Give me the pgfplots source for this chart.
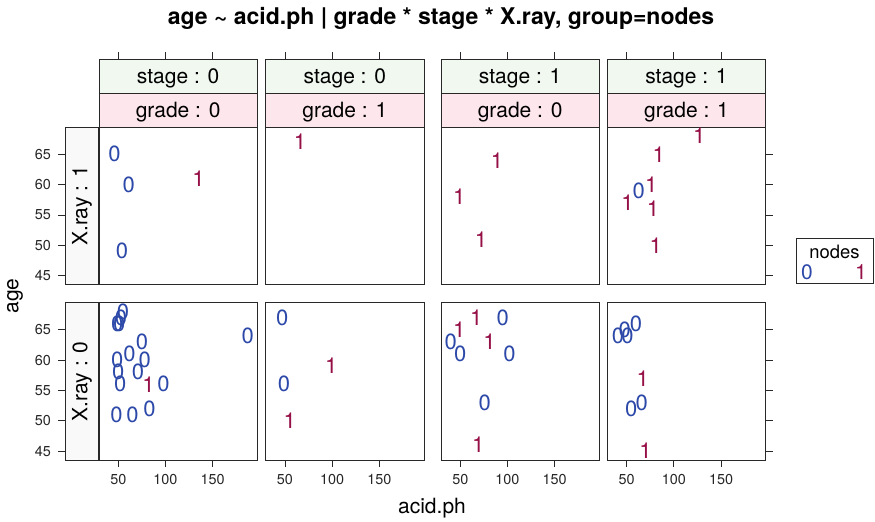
\documentclass[border=0pt]{standalone}
\usepackage{fontspec}
\setmainfont{TeX Gyre Heros}
\usepackage{pgfplots}
\pgfplotsset{compat=1.18}

\newlength\px
\setlength\px{0.5pt}

\definecolor{zerocol}{RGB}{44,72,168}
\definecolor{onecol}{RGB}{150,16,72}
\definecolor{framecol}{RGB}{40,40,40}
\definecolor{stagebg}{RGB}{240,248,240}
\definecolor{gradebg}{RGB}{253,230,236}
\definecolor{xraybg}{RGB}{249,249,249}

\tikzset{striptext/.style={font=\fontsize{10.5}{11}\selectfont}}

\pgfplotsset{
  base/.style={
    scale only axis, anchor=north west,
    xmin=29.6, xmax=197.2, ymin=43.5, ymax=69.45,
    axis line style={draw=framecol, line width=0.5pt},
    major tick style={draw=framecol, line width=0.45pt},
    major tick length=7\px, tick align=outside,
    xtick=\empty, ytick=\empty,
    tick label style={font=\fontsize{7.2}{7.2}\selectfont, text=black!85},
    /pgf/number format/assume math mode=true,
    clip=false,
  },
  panel/.style={base, width=158.3\px, height=157.4\px},
  bot/.style={xtick={50,100,150}, xtick pos=left},
  rightticks/.style={ytick={45,50,...,65}, ytick pos=right, yticklabels={,,,,}},
  strip/.style={base, width=158.3\px, height=34\px, ymin=0, ymax=1},
  zero/.style={only marks, mark=text, text mark={0}, text mark as node=true,
    color=zerocol, text mark style={font=\fontsize{11}{11}\selectfont, text=zerocol}},
  one/.style={only marks, mark=text, text mark={1}, text mark as node=true,
    color=onecol, text mark style={font=\fontsize{11}{11}\selectfont, text=onecol}},
}

\newcommand\stripcol[3]{%
  \begin{axis}[strip, at={(#1\px,-59.3\px)}, xtick={50,100,150}, xtick pos=right,
      xticklabels={,,}, axis background/.style={fill=stagebg}]
    \node[striptext, anchor=base] at (rel axis cs:0.5,0.29) {stage : #2};
  \end{axis}
  \begin{axis}[strip, at={(#1\px,-93.3\px)}, axis background/.style={fill=gradebg}]
    \node[striptext, anchor=base] at (rel axis cs:0.5,0.29) {grade : #3};
  \end{axis}%
}

\begin{document}
\begin{tikzpicture}
\path[use as bounding box] (0,0) rectangle (875\px,-521\px);

\node[font=\bfseries\fontsize{11.5}{12}\selectfont] at (441\px,-18\px)
  {age \textasciitilde{} acid.ph | grade * stage * X.ray, group=nodes};

% strips on top
\stripcol{99}{0}{0}
\stripcol{265.7}{0}{1}
\stripcol{441}{1}{0}
\stripcol{607.3}{1}{1}

% X.ray strips on the left
\begin{axis}[base, width=34\px, height=157.4\px, xmin=0, xmax=1,
    at={(65\px,-127.3\px)}, ytick={45,50,...,65}, ytick pos=left,
    axis background/.style={fill=xraybg}]
  \node[striptext, rotate=90] at (rel axis cs:0.5,0.5) {X.ray : 1};
\end{axis}
\begin{axis}[base, width=34\px, height=157.4\px, xmin=0, xmax=1,
    at={(65\px,-302.7\px)}, ytick={45,50,...,65}, ytick pos=left,
    axis background/.style={fill=xraybg}]
  \node[striptext, rotate=90] at (rel axis cs:0.5,0.5) {X.ray : 0};
\end{axis}

% ---- top row: X.ray = 1 ----
\begin{axis}[panel, at={(99\px,-127.3\px)}]
  \addplot[zero] coordinates {(46,65) (61,60) (54,49)};
  \addplot[one] coordinates {(135,61)};
\end{axis}
\begin{axis}[panel, at={(265.7\px,-127.3\px)}]
  \addplot[one] coordinates {(66,67)};
\end{axis}
\begin{axis}[panel, at={(441\px,-127.3\px)}]
  \addplot[one] coordinates {(89,64) (49,58) (72,51)};
\end{axis}
\begin{axis}[panel, rightticks, at={(607.3\px,-127.3\px)}]
  \addplot[zero] coordinates {(63,59)};
  \addplot[one] coordinates {(127,68) (84,65) (76,60) (51,57) (78,56) (81,50)};
\end{axis}

% ---- bottom row: X.ray = 0 ----
\begin{axis}[panel, bot, at={(99\px,-302.7\px)}]
  \addplot[zero] coordinates {(55,68) (53,67) (51,66) (49,66) (187,64) (75,63)
    (62,61) (49,60) (78,60) (50,58) (71,58) (52,56) (98,56) (48,51) (65,51) (83,52)};
  \addplot[one] coordinates {(82,56)};
\end{axis}
\begin{axis}[panel, bot, at={(265.7\px,-302.7\px)}]
  \addplot[zero] coordinates {(47,67) (49,56)};
  \addplot[one] coordinates {(99,59) (55,50)};
\end{axis}
\begin{axis}[panel, bot, at={(441\px,-302.7\px)}]
  \addplot[zero] coordinates {(95,67) (40,63) (50,61) (102,61) (76,53)};
  \addplot[one] coordinates {(67,67) (49,65) (81,63) (69,46)};
\end{axis}
\begin{axis}[panel, bot, rightticks, at={(607.3\px,-302.7\px)}]
  \addplot[zero] coordinates {(41,64) (48,65) (51,64) (60,66) (55,52) (66,53)};
  \addplot[one] coordinates {(67,57) (70,45)};
\end{axis}

% axis labels
\node[font=\fontsize{10.5}{11}\selectfont] at (432\px,-508\px) {acid.ph};
\node[font=\fontsize{10.5}{11}\selectfont, rotate=90] at (15\px,-296\px) {age};

% legend
\draw[framecol, line width=0.5pt] (796\px,-238\px) rectangle (873\px,-283\px);
\node[font=\fontsize{9.2}{10}\selectfont] at (834.5\px,-252\px) {nodes};
\node[font=\fontsize{10.5}{11}\selectfont, text=zerocol] at (807\px,-272\px) {0};
\node[font=\fontsize{10.5}{11}\selectfont, text=onecol] at (861\px,-272\px) {1};
\end{tikzpicture}
\end{document}
